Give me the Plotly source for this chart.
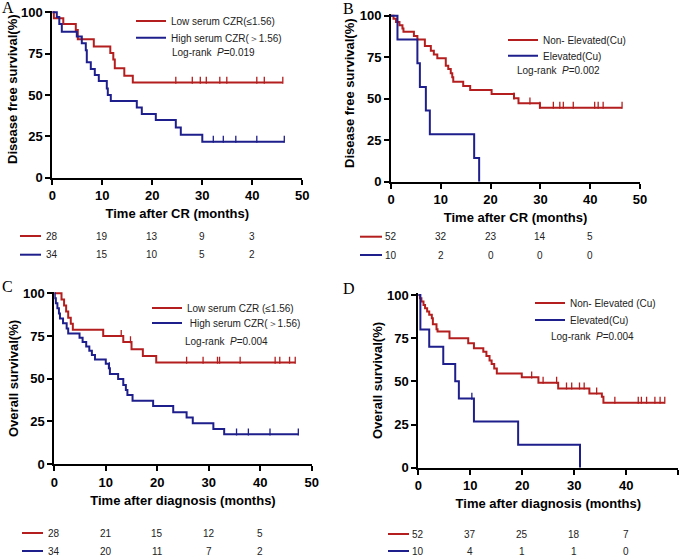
import plotly.graph_objects as go

# ---------------- data ----------------
RED = "#B41E1E"
BLUE = "#1E1E8C"

# A: disease free survival by serum CZR
a_low_t = [0, 0.3, 2.2, 4.7, 5.1, 8.3, 11.6, 12.2, 12.5, 14.4, 16.1]
a_low_s = [100, 96.4, 92.9, 89.3, 83.7, 79.4, 75.4, 71.5, 66.1, 61.7, 57.5]
a_low_end = 46.1
a_low_cens = [24.7, 28.0, 29.6, 30.8, 33.5, 34.9, 40.9, 42.4, 46.1]

a_high_t = [0, 0.9, 1.4, 1.9, 4.9, 5.9, 6.7, 6.9, 7.7, 8.5, 9.3, 10.9, 11.1, 11.7,
            16.9, 17.9, 20.7, 24.7, 25.7, 30.0]
a_high_s = [100, 97.1, 92.9, 88.2, 85.3, 81.3, 77.0, 69.8, 65.7, 62.1, 58.5, 54.0, 50.0, 46.3,
            42.5, 38.5, 34.9, 30.4, 26.0, 21.8]
a_high_end = 46.4
a_high_cens = [32.2, 34.2, 36.7, 40.9, 46.4]

# B: disease free survival by Cu
b_non_t = [0, 0.5, 1.0, 1.7, 2.3, 2.5, 4.6, 5.3, 6.8, 8.0, 8.6, 9.3, 11.0, 11.5, 12.0,
           12.3, 12.5, 14.5, 15.9, 20.2, 24.7, 25.6, 29.9]
b_non_s = [100, 98.1, 96.2, 94.2, 92.3, 90.4, 87.8, 85.7, 81.7, 78.9, 76.7, 74.3, 69.9, 67.9, 65.3,
           62.9, 60.2, 57.6, 55.2, 52.8, 50.2, 47.2, 44.6]
b_non_end = 46.4
b_non_cens = [24.7, 27.9, 29.9, 32.6, 33.9, 34.6, 36.6, 40.9, 41.6, 42.6, 46.4]

b_ele_t = [0, 1.3, 5.3, 5.8, 7.0, 7.8, 16.7, 17.7]
b_ele_s = [100, 85.7, 71.4, 57.1, 42.9, 28.6, 14.3, 0]
b_ele_end = 17.7
b_ele_cens = []

# C: overall survival by serum CZR
c_low_t = [0, 1.4, 1.9, 2.3, 2.7, 3.2, 3.6, 9.5, 13.4, 15.0, 17.2, 19.8]
c_low_s = [100, 96.4, 92.9, 89.3, 85.7, 82.1, 78.6, 75.0, 71.4, 67.2, 63.3, 59.4]
c_low_end = 46.8
c_low_cens = [13.0, 14.8, 25.7, 28.9, 31.7, 32.1, 36.1, 42.9, 43.8, 45.7, 46.8]

c_high_t = [0, 0.1, 0.3, 0.6, 0.9, 1.1, 1.7, 2.4, 2.7, 4.9, 5.5, 6.2, 6.8, 7.3, 7.9, 10.0,
            10.6, 10.8, 12.4, 13.4, 13.9, 14.2, 15.2, 19.2, 23.1, 25.7, 26.9, 30.9, 33.0]
c_high_s = [100, 97.1, 94.1, 91.2, 88.2, 85.3, 82.4, 79.4, 76.5, 73.9, 71.4, 68.8, 66.3, 63.8, 61.2, 58.7,
            56.1, 52.7, 49.8, 46.3, 43.4, 40.4, 37.1, 34.0, 30.3, 27.3, 23.8, 20.5, 17.4]
c_high_end = 47.4
c_high_cens = [10.7, 35.4, 37.7, 41.9, 47.4]

# D: overall survival by Cu
d_non_t = [0, 0.3, 0.6, 1.0, 1.3, 1.7, 2.1, 2.6, 2.8, 3.5, 3.7, 6.0, 9.6, 10.7, 12.5, 13.1,
           13.7, 14.1, 14.6, 15.1, 19.9, 23.1, 26.9, 32.9, 35.3, 35.6]
d_non_s = [100, 98.1, 96.2, 94.2, 92.3, 90.4, 88.5, 86.5, 83.0, 80.1, 78.8, 74.9, 72.0, 69.1, 67.2, 64.7,
           62.0, 60.0, 57.5, 54.6, 52.3, 49.2, 45.9, 43.0, 41.1, 37.6]
d_non_end = 47.4
d_non_cens = [21.8, 24.0, 26.6, 28.5, 29.5, 31.0, 31.9, 34.3, 37.8, 42.3, 42.9, 43.9, 45.5, 46.5, 47.4]

d_ele_t = [0, 0.4, 2.1, 4.8, 7.1, 7.8, 10.7, 19.2, 31.1]
d_ele_s = [100, 80.0, 70.0, 60.0, 50.0, 40.0, 26.7, 13.3, 0]
d_ele_end = 31.1
d_ele_cens = [10.3]

# numbers at risk at 0, 10, 20, 30, 40 months
risk_times = [0, 10, 20, 30, 40]
risk_a = [[28, 19, 13, 9, 3], [34, 15, 10, 5, 2]]
risk_b = [[52, 32, 23, 14, 5], [10, 2, 0, 0, 0]]
risk_c = [[28, 21, 15, 12, 5], [34, 20, 11, 7, 2]]
risk_d = [[52, 37, 25, 18, 7], [10, 4, 1, 1, 0]]

W, H = 685, 556


def px(x):
    return x / W


def py(y):
    return 1 - y / H


def surv_at(times, surv, t):
    s = surv[0]
    for ti, si in zip(times, surv):
        if ti <= t:
            s = si
    return s


fig = go.Figure()

panels = [
    # name, xaxis, yaxis, x domain px, y domain px (top, bottom), ytitle (text, x, y), xtitle
    ("A", "x", "y", (52.3, 302.3), (12.3, 177.7), ("Disease free survival(%)", 12, 89), "Time after CR (months)"),
    ("B", "x2", "y2", (391, 640), (15.7, 181.7), ("Disease free survival(%)", 350, 93), "Time after CR (months)"),
    ("C", "x3", "y3", (54.3, 311.7), (293.3, 464), ("Overall survival(%)", 13, 379), "Time after diagnosis (months)"),
    ("D", "x4", "y4", (418.3, 678.3), (295, 467.7), ("Overall survival(%)", 377, 381), "Time after diagnosis (months)"),
]

curves = {
    "A": [(a_low_t, a_low_s, a_low_end, a_low_cens, RED, "Low serum CZR(≤1.56)"),
          (a_high_t, a_high_s, a_high_end, a_high_cens, BLUE, "High serum CZR(＞1.56)")],
    "B": [(b_non_t, b_non_s, b_non_end, b_non_cens, RED, "Non- Elevated(Cu)"),
          (b_ele_t, b_ele_s, b_ele_end, b_ele_cens, BLUE, "Elevated(Cu)")],
    "C": [(c_low_t, c_low_s, c_low_end, c_low_cens, RED, "Low serum CZR (≤1.56)"),
          (c_high_t, c_high_s, c_high_end, c_high_cens, BLUE, " High serum CZR(＞1.56)")],
    "D": [(d_non_t, d_non_s, d_non_end, d_non_cens, RED, "Non- Elevated (Cu)"),
          (d_ele_t, d_ele_s, d_ele_end, d_ele_cens, BLUE, "Elevated(Cu)")],
}

# legend positions (px): left x of line, y of each row
legend_pos = {
    "A": (131, [21, 37.7], (170, 53), "0.019"),
    "B": (503, [40, 55.7], (515, 70), "0.002"),
    "C": (147, [308, 323], (183, 341), "0.004"),
    "D": (530, [303, 320], (549, 336), "0.004"),
}

risk_rows = {
    "A": (risk_a, [236, 254.7], (20, 41)),
    "B": (risk_b, [236.7, 255], (360, 382)),
    "C": (risk_c, [533, 551], (22, 43)),
    "D": (risk_d, [534, 551], (388, 409)),
}

label_pos = {"A": (0, 7), "B": (341, 8), "C": (0, 286), "D": (341, 288)}

annotations = []
shapes = []
lg_i = 1
axis_font = dict(family="Liberation Sans", size=13, color="black", weight="bold")
title_font = dict(family="Liberation Sans", size=13, color="black", weight="bold")

for name, xa, ya, (x0, x1), (ytop, ybot), (ytitle, ytx, yty), xtitle in panels:
    for (t, s, end, cens, col, label) in curves[name]:
        lg = "legend" if lg_i == 1 else "legend%d" % lg_i
        fig.add_trace(go.Scatter(
            x=t + [end], y=s + [s[-1]], mode="lines", line=dict(color=col, width=2, shape="hv"),
            xaxis=xa, yaxis=ya, name=label, legend=lg, showlegend=True, hoverinfo="skip"))
        if cens:
            fig.add_trace(go.Scatter(
                x=cens, y=[surv_at(t, s, c) + 1.4 for c in cens], mode="markers",
                marker=dict(symbol="line-ns", size=5, line=dict(color=col, width=1.3)),
                xaxis=xa, yaxis=ya, showlegend=False, hoverinfo="skip"))
        lg_i += 1

    sfx = xa[1:]
    # extend the y range slightly so the 100% line is not clipped
    ext = 1.0
    span = ybot - ytop
    top_px = ytop - span * ext / 100
    fig.update_layout(**{
        "xaxis" + sfx: dict(domain=[px(x0), px(x1)], range=[0, 50], anchor="y" + sfx,
                            automargin=False,
                            tickvals=[0, 10, 20, 30, 40, 50], showgrid=False, zeroline=False,
                            showline=True, linewidth=2, linecolor="black", ticks="outside",
                            ticklen=5, tickwidth=2, tickcolor="black", tickfont=axis_font,
                            title=dict(text=xtitle, font=title_font, standoff=7)),
        "yaxis" + sfx: dict(domain=[py(ybot), py(top_px)], range=[0, 100 + ext], anchor="x" + sfx,
                            automargin=False,
                            tickvals=[0, 25, 50, 75, 100], showgrid=False, zeroline=False,
                            showline=True, linewidth=2, linecolor="black", ticks="outside",
                            ticklen=5, tickwidth=2, tickcolor="black", tickfont=axis_font),
    })
    annotations.append(dict(x=px(ytx), y=py(yty), xref="paper", yref="paper", xanchor="center",
                            yanchor="middle", showarrow=False, textangle=-90, text=ytitle,
                            font=title_font))

    # legends, one per entry
    lx, rows, (rx, ry), pval = legend_pos[name]
    base = lg_i - 2
    for k, row_y in enumerate(rows):
        idx = base + k
        key = "legend" if idx == 1 else "legend%d" % idx
        fig.update_layout(**{key: dict(x=px(lx), y=py(row_y), xanchor="left", yanchor="middle",
                                       bgcolor="rgba(0,0,0,0)", borderwidth=0,
                                       font=dict(family="Liberation Sans", size=10, color="#222"),
                                       itemwidth=30, tracegroupgap=0)})
    annotations.append(dict(x=px(rx), y=py(ry), xref="paper", yref="paper", xanchor="left",
                            yanchor="middle", showarrow=False,
                            text="Log-rank  <i>P</i>=" + pval,
                            font=dict(family="Liberation Sans", size=10, color="#222")))

    # numbers at risk
    counts, ys, (sx0, sx1) = risk_rows[name]
    for row, yy, col in zip(counts, ys, [RED, BLUE]):
        shapes.append(dict(type="line", xref="paper", yref="paper", x0=px(sx0), x1=px(sx1),
                           y0=py(yy), y1=py(yy), line=dict(color=col, width=2)))
        for tt, n in zip(risk_times, row):
            annotations.append(dict(x=tt, y=py(yy), xref=xa, yref="paper", xanchor="center",
                                    yanchor="middle", showarrow=False, text=str(n),
                                    font=dict(family="Liberation Sans", size=10, color="#222")))

    lx_, ly_ = label_pos[name]
    annotations.append(dict(x=px(lx_), y=py(ly_), xref="paper", yref="paper", xanchor="left",
                            yanchor="middle", showarrow=False, text=name,
                            font=dict(family="Liberation Serif", size=16, color="black")))

fig.update_layout(width=W, height=H, margin=dict(l=0, r=0, t=0, b=0),
                  paper_bgcolor="white", plot_bgcolor="white",
                  annotations=annotations, shapes=shapes)

# the page body has a default 8px margin; drop it so the figure fills the window
fig.write_html("out.html", config={"displayModeBar": False},
               post_script="document.body.style.margin='0px';")
